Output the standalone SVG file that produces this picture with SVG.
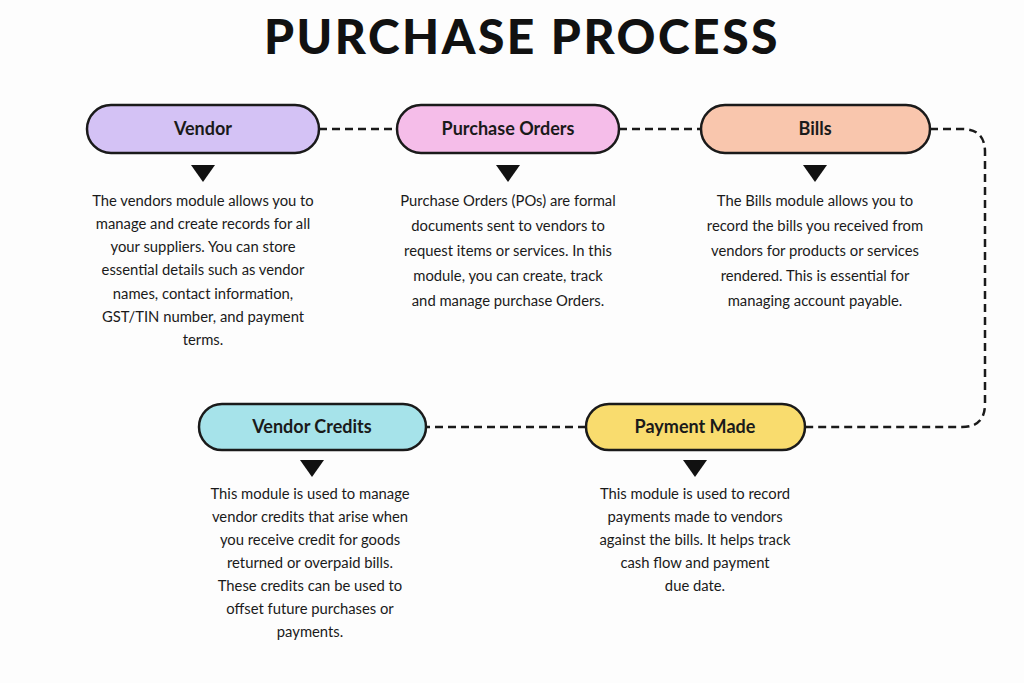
<svg xmlns="http://www.w3.org/2000/svg" width="1024" height="683" viewBox="0 0 1024 683">
<style>
.node{stroke:#1a1a1a;stroke-width:2.5}
.lbl{font-family:Lato,"Liberation Sans",sans-serif;font-weight:bold;font-size:18px;fill:#1a1a1a;text-anchor:middle}
.desc{font-family:Lato,"Liberation Sans",sans-serif;font-size:14.8px;fill:#1a1a1a;text-anchor:middle}
.conn{fill:none;stroke:#1a1a1a;stroke-width:2.5;stroke-dasharray:8 5}
.tri{fill:#111}
</style>
<rect width="1024" height="683" fill="#fdfdfd"/>
<text x="522" y="54" font-family="Lato,'Liberation Sans',sans-serif" font-weight="900" font-size="48" fill="#111" text-anchor="middle" letter-spacing="2.5">PURCHASE PROCESS</text>
<g id="connectors">
<path class="conn" d="M319 129H397"/>
<path class="conn" d="M619 129H701"/>
<path class="conn" d="M930 129H962Q985 129 985 152V404Q985 427 962 427H805"/>
<path class="conn" d="M586 427H426"/>
</g>
<g id="vendor">
<rect class="node" x="87" y="105" width="232" height="48" rx="24" fill="#d4c2f5"/>
<text class="lbl" x="203" y="135">Vendor</text>
<path class="tri" d="M191 165H215L203 182Z"/>
<text class="desc"><tspan x="203" y="206">The vendors module allows you to</tspan><tspan x="203" y="229">manage and create records for all</tspan><tspan x="203" y="252">your suppliers. You can store</tspan><tspan x="203" y="275">essential details such as vendor</tspan><tspan x="203" y="299">names, contact information,</tspan><tspan x="203" y="322">GST/TIN number, and payment</tspan><tspan x="203" y="345">terms.</tspan></text>
</g>
<g id="purchase-orders">
<rect class="node" x="397" y="105" width="222" height="48" rx="24" fill="#f5bde9"/>
<text class="lbl" x="508" y="135">Purchase Orders</text>
<path class="tri" d="M496 165H520L508 182Z"/>
<text class="desc"><tspan x="508" y="206">Purchase Orders (POs) are formal</tspan><tspan x="508" y="231">documents sent to vendors to</tspan><tspan x="508" y="256">request items or services. In this</tspan><tspan x="508" y="281">module, you can create, track</tspan><tspan x="508" y="306">and manage purchase Orders.</tspan></text>
</g>
<g id="bills">
<rect class="node" x="701" y="105" width="229" height="48" rx="24" fill="#f9c6ad"/>
<text class="lbl" x="815" y="135">Bills</text>
<path class="tri" d="M803 165H827L815 182Z"/>
<text class="desc"><tspan x="815" y="206">The Bills module allows you to</tspan><tspan x="815" y="231">record the bills you received from</tspan><tspan x="815" y="256">vendors for products or services</tspan><tspan x="815" y="281">rendered. This is essential for</tspan><tspan x="815" y="306">managing account payable.</tspan></text>
</g>
<g id="payment-made">
<rect class="node" x="586" y="404" width="219" height="46" rx="23" fill="#f9dc6e"/>
<text class="lbl" x="695" y="433">Payment Made</text>
<path class="tri" d="M683 460H707L695 477Z"/>
<text class="desc"><tspan x="695" y="499">This module is used to record</tspan><tspan x="695" y="522">payments made to vendors</tspan><tspan x="695" y="545">against the bills. It helps track</tspan><tspan x="695" y="568">cash flow and payment</tspan><tspan x="695" y="591">due date.</tspan></text>
</g>
<g id="vendor-credits">
<rect class="node" x="199" y="404" width="227" height="46" rx="23" fill="#a6e3ea"/>
<text class="lbl" x="312" y="433">Vendor Credits</text>
<path class="tri" d="M300 460H324L312 477Z"/>
<text class="desc"><tspan x="310" y="499">This module is used to manage</tspan><tspan x="310" y="522">vendor credits that arise when</tspan><tspan x="310" y="545">you receive credit for goods</tspan><tspan x="310" y="568">returned or overpaid bills.</tspan><tspan x="310" y="591">These credits can be used to</tspan><tspan x="310" y="614">offset future purchases or</tspan><tspan x="310" y="637">payments.</tspan></text>
</g>
</svg>
